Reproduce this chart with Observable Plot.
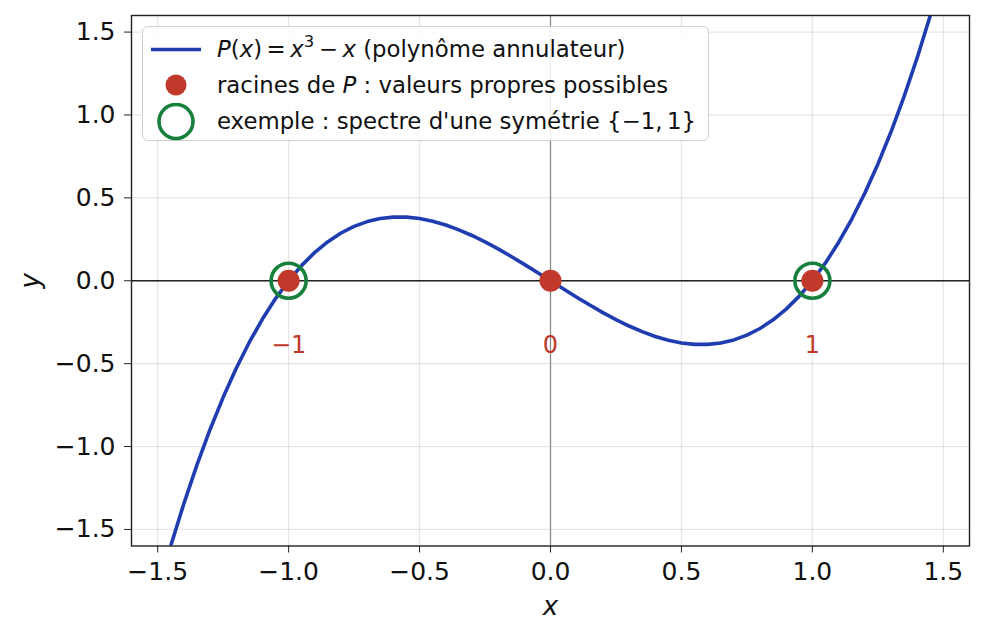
<!DOCTYPE html>
<html>
<head>
<meta charset="utf-8">
<script src="https://cdn.jsdelivr.net/npm/d3@7"></script>
<script src="https://cdn.jsdelivr.net/npm/@observablehq/plot@0.6"></script>
<style>
  html, body { margin: 0; padding: 0; background: #fff; }
  #wrap { position: relative; width: 983px; height: 638px; font-family: "DejaVu Sans", sans-serif; }
  #legend {
    position: absolute; left: 142px; top: 26px; width: 565px; height: 113px;
    border: 1.5px solid #d0d0d0; border-radius: 6px; background: rgba(255,255,255,0.85);
    font-size: 22.8px; color: #111;
  }
  .row { position: absolute; left: 0; height: 36px; width: 100%; }
  .row .sym { position: absolute; left: 0; top: 0; }
  .row .lab { position: absolute; left: 74px; top: 0; line-height: 36px; white-space: nowrap; }
  sup { font-size: 72%; position: relative; top: -1px; vertical-align: super; line-height: 0; }
</style>
</head>
<body>
<div id="wrap"></div>
<script>
// ---- data ----
const curveX = [-1.45,-1.40,-1.35,-1.30,-1.25,-1.20,-1.15,-1.10,-1.05,-1.00,-0.95,-0.90,-0.85,-0.80,-0.75,-0.70,-0.65,-0.60,-0.55,-0.50,-0.45,-0.40,-0.35,-0.30,-0.25,-0.20,-0.15,-0.10,-0.05,0.00,0.05,0.10,0.15,0.20,0.25,0.30,0.35,0.40,0.45,0.50,0.55,0.60,0.65,0.70,0.75,0.80,0.85,0.90,0.95,1.00,1.05,1.10,1.15,1.20,1.25,1.30,1.35,1.40,1.45];
const curveY = [-1.5986,-1.344,-1.1104,-0.897,-0.7031,-0.528,-0.3709,-0.231,-0.1076,0,0.0926,0.171,0.2359,0.288,0.3281,0.357,0.3754,0.384,0.3836,0.375,0.3589,0.336,0.3071,0.273,0.2344,0.192,0.1466,0.099,0.0499,0,-0.0499,-0.099,-0.1466,-0.192,-0.2344,-0.273,-0.3071,-0.336,-0.3589,-0.375,-0.3836,-0.384,-0.3754,-0.357,-0.3281,-0.288,-0.2359,-0.171,-0.0926,0,0.1076,0.231,0.3709,0.528,0.7031,0.897,1.1104,1.344,1.5986];
const roots = [-1, 0, 1];
const rootLabels = ["−1", "0", "1"];
const spectrum = [-1, 1];
const xTicks = [-1.5, -1.0, -0.5, 0.0, 0.5, 1.0, 1.5];
const yTicks = [-1.5, -1.0, -0.5, 0.0, 0.5, 1.0, 1.5];

const curve = curveX.map((x, i) => ({x, y: curveY[i]}));
const rootData = roots.map((x, i) => ({x, label: rootLabels[i]}));

const BLUE = "#1f3db0", RED = "#c0392b", GREEN = "#16803c";
const fmt = d => d.toFixed(1).replace("-", "−");

const chart = Plot.plot({
  width: 983, height: 638,
  marginLeft: 131, marginRight: 14, marginTop: 15, marginBottom: 92.5,
  x: {domain: [-1.6, 1.6]},
  y: {domain: [-1.6, 1.6]},
  style: {fontFamily: "DejaVu Sans, sans-serif", background: "white", color: "#111"},
  marks: [
    Plot.gridX(xTicks, {stroke: "#b0b0b0", strokeOpacity: 0.3, strokeWidth: 1.3}),
    Plot.gridY(yTicks, {stroke: "#b0b0b0", strokeOpacity: 0.3, strokeWidth: 1.3}),
    Plot.ruleX([0], {stroke: "#888", strokeWidth: 1.2}),
    Plot.ruleY([0], {stroke: "#222", strokeWidth: 1.6}),
    Plot.line(curve, {x: "x", y: "y", stroke: BLUE, strokeWidth: 3.6, clip: true}),
    Plot.dot(spectrum, {x: d => d, y: () => 0, r: 17.5, stroke: GREEN, strokeWidth: 3.6, fill: "none"}),
    Plot.dot(rootData, {x: "x", y: () => 0, r: 11, fill: RED, stroke: "none"}),
    Plot.text(rootData, {x: "x", y: () => 0, text: "label", dy: 65, fill: RED, fontSize: 24}),
    Plot.frame({stroke: "#222", strokeWidth: 1.4}),
    Plot.axisX(xTicks, {tickFormat: fmt, fontSize: 25, tickSize: 7, tickPadding: 9, label: null, stroke: "#222"}),
    Plot.axisY(yTicks, {tickFormat: fmt, fontSize: 25, tickSize: 7, tickPadding: 9, label: null, stroke: "#222"}),
    Plot.text(["x"], {frameAnchor: "bottom", lineAnchor: "middle", textAnchor: "middle", dy: 61, text: d => d, fontSize: 26, fontStyle: "italic", fill: "#111"}),
    Plot.text(["y"], {frameAnchor: "left", lineAnchor: "middle", textAnchor: "middle", dx: -101, text: d => d, fontSize: 26, fontStyle: "italic", rotate: -90, fill: "#111"})
  ]
});

const wrap = document.getElementById("wrap");
wrap.appendChild(chart);

const legend = document.createElement("div");
legend.id = "legend";
legend.innerHTML = `
  <div class="row" style="top:4px">
    <svg class="sym" width="70" height="36"><line x1="8" x2="58" y1="18.5" y2="18.5" stroke="${BLUE}" stroke-width="3.6"/></svg>
    <span class="lab"><i>P</i>(<i>x</i>)&#8201;=&#8201;<i>x</i><sup>3</sup>&#8201;−&#8201;<i>x</i> (polynôme annulateur)</span>
  </div>
  <div class="row" style="top:40px">
    <svg class="sym" width="70" height="36"><circle cx="33" cy="18" r="10.5" fill="${RED}"/></svg>
    <span class="lab">racines de <i>P</i> : valeurs propres possibles</span>
  </div>
  <div class="row" style="top:76px">
    <svg class="sym" width="70" height="40"><circle cx="33" cy="18.5" r="17" fill="none" stroke="${GREEN}" stroke-width="3.6"/></svg>
    <span class="lab">exemple : spectre d'une symétrie {−1,&#8201;1}</span>
  </div>`;
wrap.appendChild(legend);
</script>
</body>
</html>
